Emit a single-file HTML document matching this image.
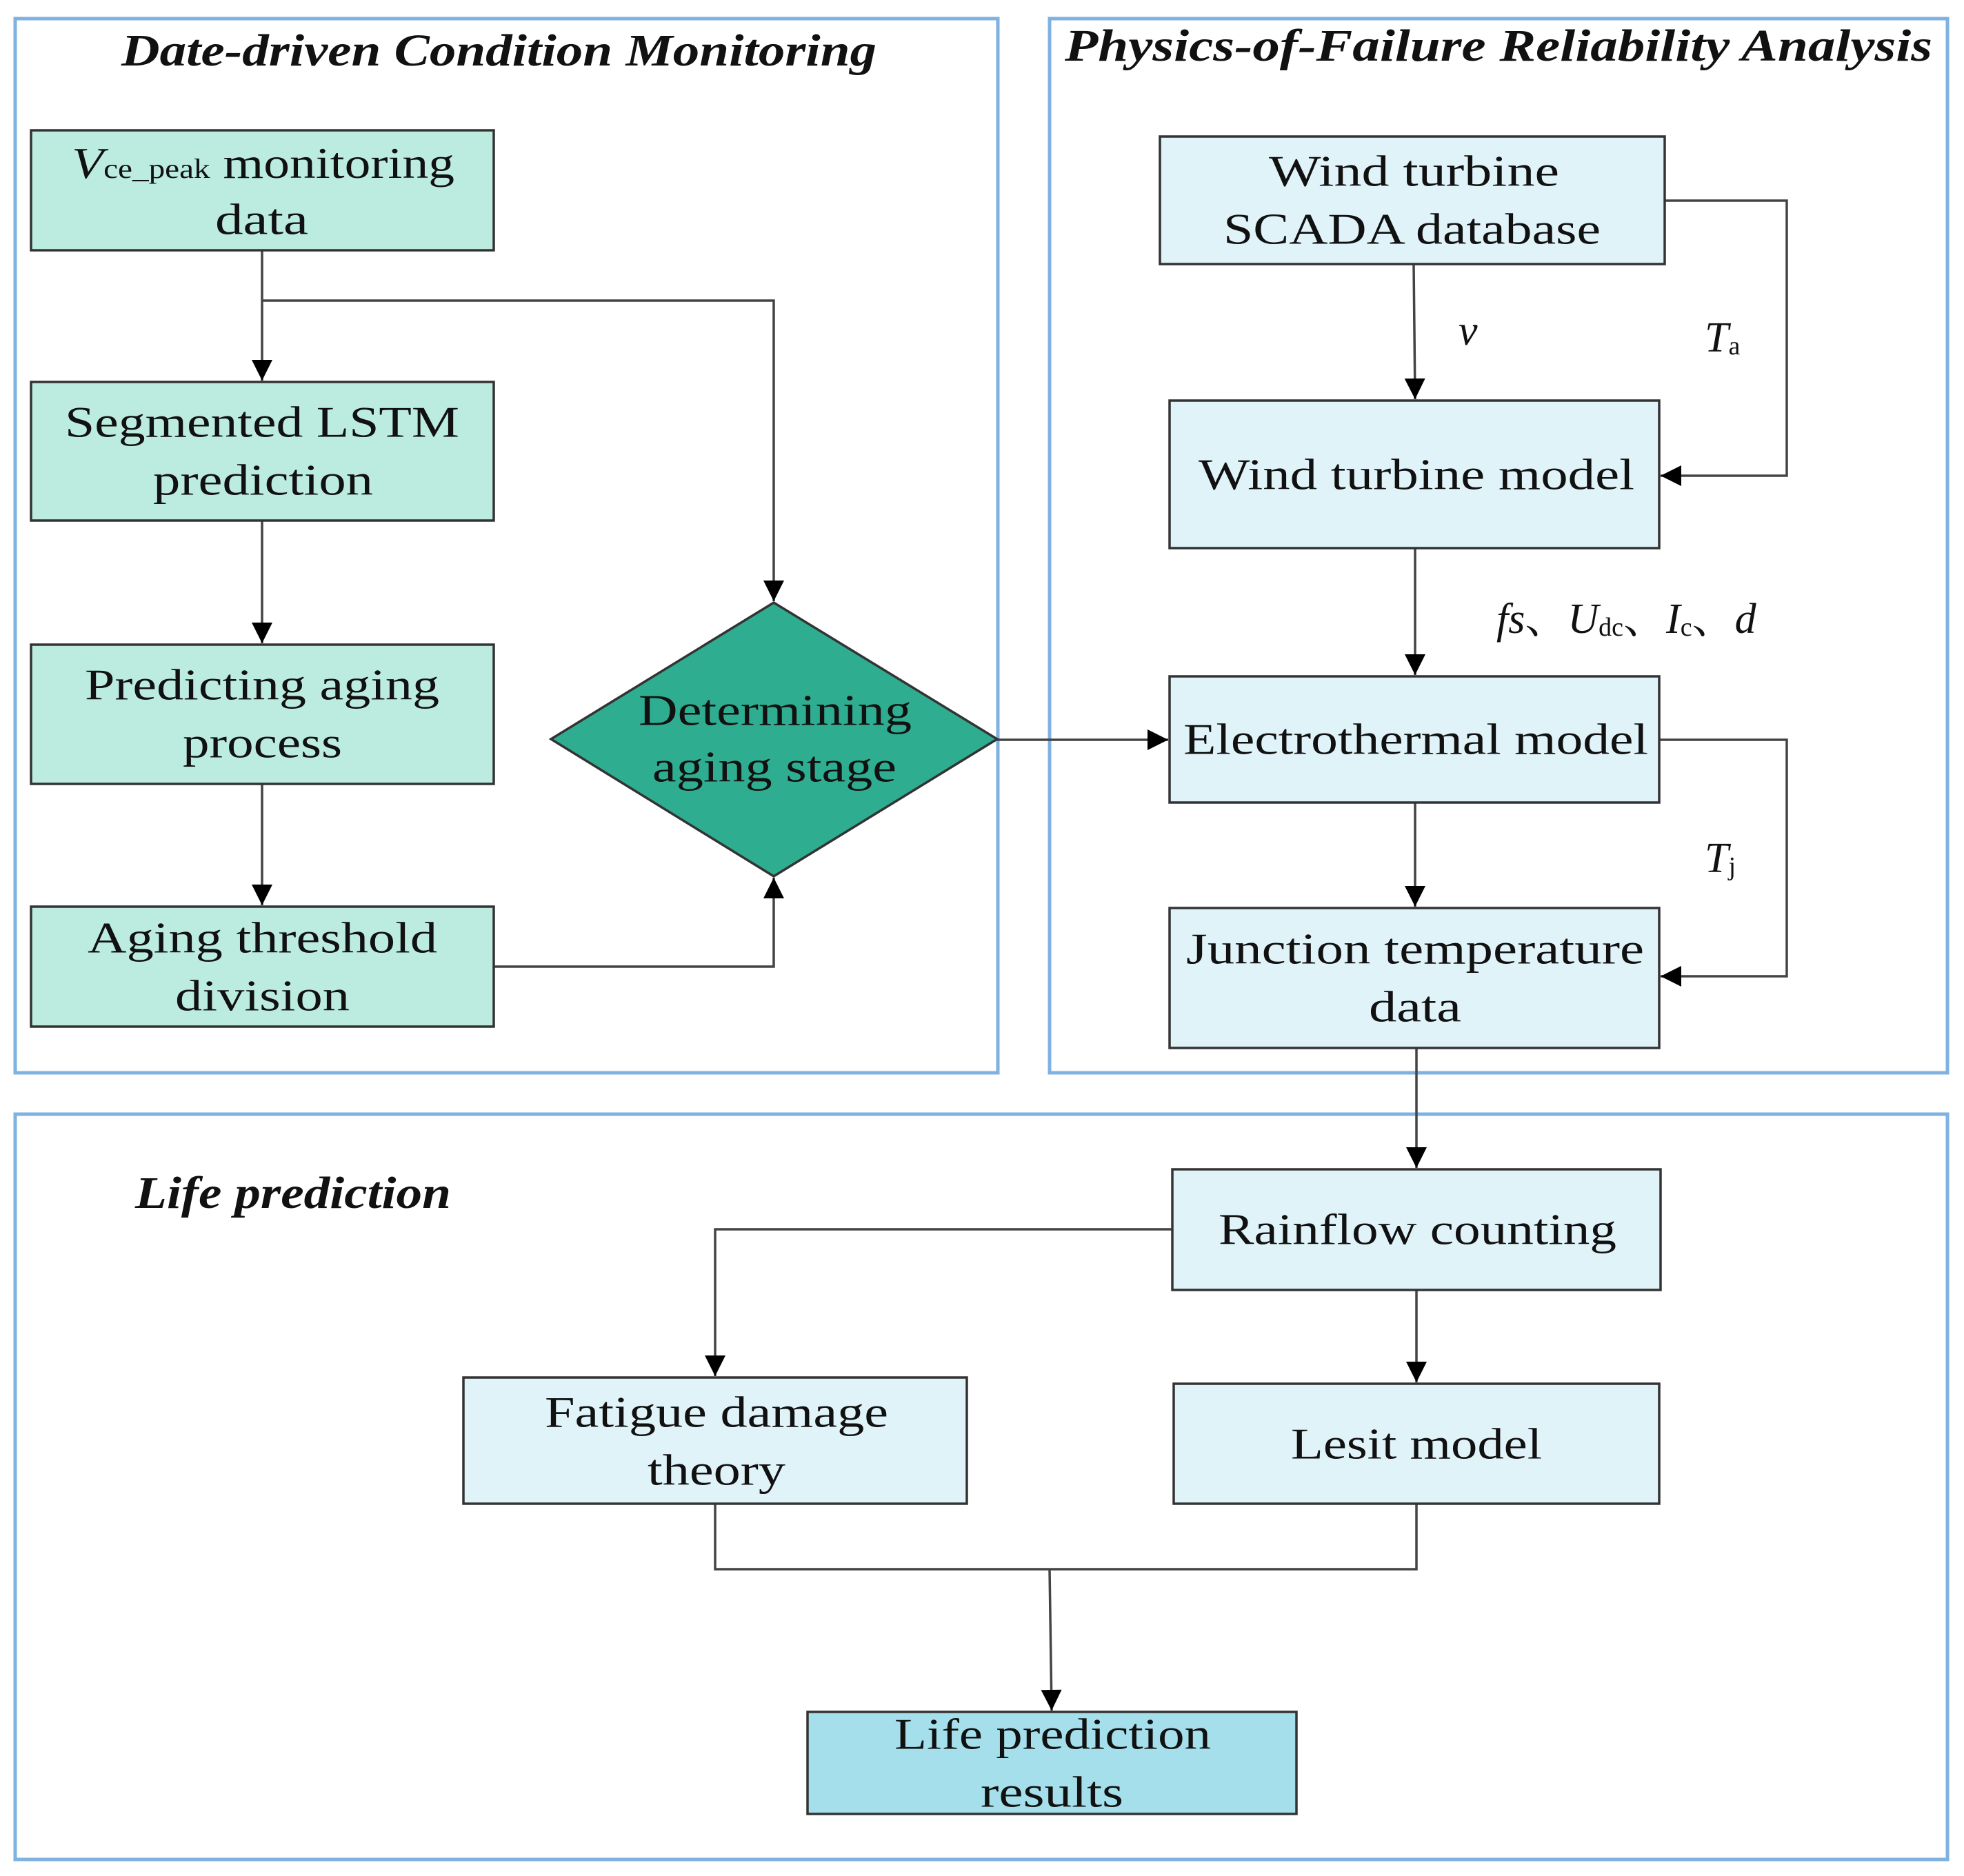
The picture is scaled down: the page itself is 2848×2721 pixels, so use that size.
<!DOCTYPE html>
<html><head><meta charset="utf-8"><style>html,body{margin:0;padding:0;background:#fff}svg{display:block}</style></head>
<body>
<svg width="2848" height="2721" viewBox="0 0 2848 2721" xmlns="http://www.w3.org/2000/svg" font-family="'Liberation Serif', serif">
<defs>
<marker id="a" viewBox="0 0 10 10" refX="10" refY="5" markerWidth="34" markerHeight="30" markerUnits="userSpaceOnUse" orient="auto">
<path d="M0,0 L10,5 L0,10 z" fill="#000"/></marker>
</defs>
<rect width="2848" height="2721" fill="#fff"/>
<g fill="none" stroke="#7fb2e0" stroke-width="5">
<rect x="22" y="27" width="1425" height="1529"/>
<rect x="1522" y="27" width="1302" height="1529"/>
<rect x="22" y="1616" width="2802" height="1081"/>
</g>
<g font-style="italic" font-weight="bold" font-size="66" fill="#111">
<text x="176" y="95" textLength="1095" lengthAdjust="spacingAndGlyphs">Date-driven Condition Monitoring</text>
<text x="1544" y="88" textLength="1258" lengthAdjust="spacingAndGlyphs">Physics-of-Failure  Reliability Analysis</text>
<text x="196" y="1752" textLength="458" lengthAdjust="spacingAndGlyphs">Life prediction</text>
</g>
<g stroke="#444" stroke-width="3.5" fill="none">
<line x1="380" y1="363" x2="380" y2="552" marker-end="url(#a)"/>
<polyline points="380,436 1122,436 1122,872" marker-end="url(#a)"/>
<line x1="380" y1="755" x2="380" y2="933" marker-end="url(#a)"/>
<line x1="380" y1="1137" x2="380" y2="1313" marker-end="url(#a)"/>
<polyline points="716,1402 1122,1402 1122,1273" marker-end="url(#a)"/>
<line x1="1446" y1="1073" x2="1694" y2="1073" marker-end="url(#a)"/>
<line x1="2050" y1="383" x2="2052" y2="579" marker-end="url(#a)"/>
<polyline points="2414,291 2591,291 2591,690 2408,690" marker-end="url(#a)"/>
<line x1="2052" y1="795" x2="2052" y2="979" marker-end="url(#a)"/>
<line x1="2052" y1="1164" x2="2052" y2="1315" marker-end="url(#a)"/>
<polyline points="2406,1073 2591,1073 2591,1416 2408,1416" marker-end="url(#a)"/>
<line x1="2054" y1="1520" x2="2054" y2="1694" marker-end="url(#a)"/>
<polyline points="1700,1783 1037,1783 1037,1996" marker-end="url(#a)"/>
<line x1="2054" y1="1871" x2="2054" y2="2005" marker-end="url(#a)"/>
<polyline points="1037,2181 1037,2276 2054,2276 2054,2181"/>
<line x1="1522" y1="2276" x2="1525" y2="2481" marker-end="url(#a)"/>
</g>
<g stroke="#333" stroke-width="3.5">
<rect x="45" y="189" width="671" height="174" fill="#bcece0"/>
<rect x="45" y="554" width="671" height="201" fill="#bcece0"/>
<rect x="45" y="935" width="671" height="202" fill="#bcece0"/>
<rect x="45" y="1315" width="671" height="174" fill="#bcece0"/>
<polygon points="799,1072 1122,874 1446,1072 1122,1271" fill="#2fad90"/>
<rect x="1682" y="198" width="732" height="185" fill="#e0f3f9"/>
<rect x="1696" y="581" width="710" height="214" fill="#e0f3f9"/>
<rect x="1696" y="981" width="710" height="183" fill="#e0f3f9"/>
<rect x="1696" y="1317" width="710" height="203" fill="#e0f3f9"/>
<rect x="1700" y="1696" width="708" height="175" fill="#e0f3f9"/>
<rect x="1702" y="2007" width="704" height="174" fill="#e0f3f9"/>
<rect x="672" y="1998" width="730" height="183" fill="#e0f3f9"/>
<rect x="1171" y="2483" width="709" height="148" fill="#a5dfeb"/>
</g>
<g font-size="64" fill="#111" dominant-baseline="central">
<text x="104" y="236" textLength="555" lengthAdjust="spacingAndGlyphs"><tspan font-style="italic">V</tspan><tspan font-size="40" dy="8">ce_peak</tspan><tspan dy="-8"> monitoring</tspan></text>
<text x="312" y="318" textLength="135" lengthAdjust="spacingAndGlyphs">data</text>
<text x="94" y="612" textLength="572" lengthAdjust="spacingAndGlyphs">Segmented  LSTM</text>
<text x="222" y="696" textLength="319" lengthAdjust="spacingAndGlyphs">prediction</text>
<text x="123" y="993" textLength="514" lengthAdjust="spacingAndGlyphs">Predicting aging</text>
<text x="265" y="1077" textLength="231" lengthAdjust="spacingAndGlyphs">process</text>
<text x="127" y="1360" textLength="507" lengthAdjust="spacingAndGlyphs">Aging threshold</text>
<text x="254" y="1444" textLength="253" lengthAdjust="spacingAndGlyphs">division</text>
<text x="926" y="1030" textLength="396" lengthAdjust="spacingAndGlyphs">Determining</text>
<text x="946" y="1112" textLength="354" lengthAdjust="spacingAndGlyphs">aging stage</text>
<text x="1840" y="248" textLength="421" lengthAdjust="spacingAndGlyphs">Wind turbine</text>
<text x="1774" y="332" textLength="547" lengthAdjust="spacingAndGlyphs">SCADA database</text>
<text x="1738" y="688" textLength="632" lengthAdjust="spacingAndGlyphs">Wind turbine model</text>
<text x="1716" y="1072" textLength="674" lengthAdjust="spacingAndGlyphs">Electrothermal model</text>
<text x="1720" y="1376" textLength="664" lengthAdjust="spacingAndGlyphs">Junction temperature</text>
<text x="1985" y="1460" textLength="134" lengthAdjust="spacingAndGlyphs">data</text>
<text x="1767" y="1783" textLength="577" lengthAdjust="spacingAndGlyphs">Rainflow counting</text>
<text x="1872" y="2094" textLength="364" lengthAdjust="spacingAndGlyphs">Lesit model</text>
<text x="790" y="2048" textLength="498" lengthAdjust="spacingAndGlyphs">Fatigue damage</text>
<text x="939" y="2132" textLength="200" lengthAdjust="spacingAndGlyphs">theory</text>
<text x="1297" y="2515" textLength="459" lengthAdjust="spacingAndGlyphs">Life prediction</text>
<text x="1422" y="2599" textLength="207" lengthAdjust="spacingAndGlyphs">results</text>
</g>
<g font-size="62" fill="#111" font-style="italic" font-family="'Liberation Serif','Noto Serif CJK SC',serif">
<text x="2115" y="500">v</text>
<text x="2472" y="510">T<tspan font-size="38" font-style="normal" dy="4">a</tspan></text>
<text x="2170" y="918">fs<tspan font-style="normal">、</tspan>U<tspan font-size="38" font-style="normal" dy="4">dc</tspan><tspan font-style="normal" dy="-4">、</tspan>I<tspan font-size="38" font-style="normal" dy="4">c</tspan><tspan font-style="normal" dy="-4">、</tspan>d</text>
<text x="2472" y="1265">T<tspan font-size="38" font-style="normal" dy="4">j</tspan></text>
</g>
</svg>
</body></html>
